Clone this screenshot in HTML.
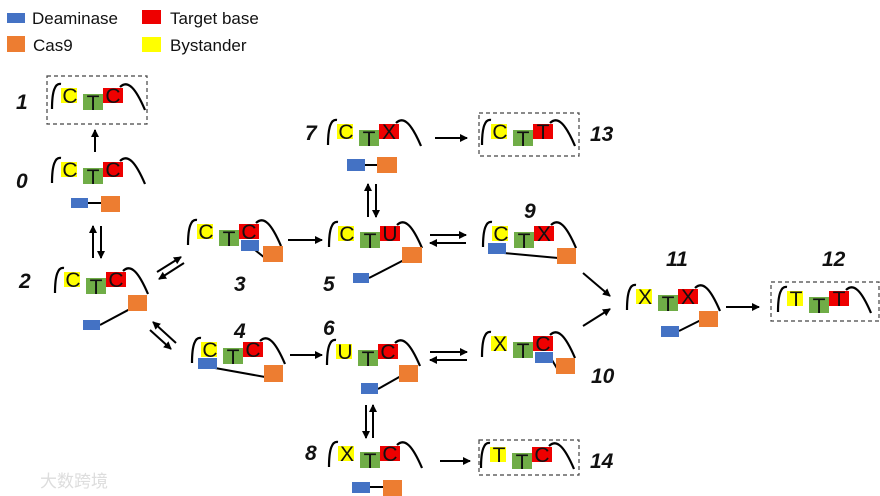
<!DOCTYPE html>
<html><head><meta charset="utf-8"><style>
html,body{margin:0;padding:0;background:#fff}
svg{display:block}
.y{fill:#FFFF00}.g{fill:#70AD47}.r{fill:#EE0000}.b{fill:#4472C4}.o{fill:#ED7D31}
.m text{font-family:"Liberation Sans",sans-serif;font-size:21px;fill:#111;text-anchor:middle}
.lab{font-family:"Liberation Sans",sans-serif;font-size:21px;font-weight:bold;font-style:italic;fill:#111}
.leg{font-family:"Liberation Sans",sans-serif;font-size:17px;fill:#111}
.ln{stroke:#000;stroke-width:2;fill:none}
.dash{fill:none;stroke:#444;stroke-width:1.2;stroke-dasharray:4,3}
</style></head><body>
<svg width="880" height="496" viewBox="0 0 880 496" xmlns="http://www.w3.org/2000/svg">
<defs>
<path id="arc" d="M0,0 C0,-18 3,-26 9,-25 M68,-22 C76,-30 84,-20 93,1" fill="none" stroke="#000" stroke-width="2.2"/>
<marker id="ah" markerWidth="8" markerHeight="8" refX="7" refY="4" orient="auto" markerUnits="userSpaceOnUse"><path d="M0,0 L8,4 L0,8 z" fill="#000"/></marker>
</defs>
<rect class="b" x="7" y="13" width="18" height="10"/><text class="leg" x="32" y="24">Deaminase</text>
<rect class="r" x="142" y="10" width="19" height="14"/><text class="leg" x="170" y="24">Target base</text>
<rect class="o" x="7" y="36" width="18" height="16"/><text class="leg" x="33" y="51">Cas9</text>
<rect class="y" x="142" y="37" width="19" height="15"/><text class="leg" x="170" y="51">Bystander</text>

<rect class="dash" x="47" y="76" width="100" height="48"/>
<rect class="dash" x="479" y="113" width="100" height="43"/>
<rect class="dash" x="771" y="282" width="108" height="39"/>
<rect class="dash" x="479" y="440" width="100" height="35"/>

<g class="m" transform="translate(52,183)"><use href="#arc"/><rect class="y" x="9" y="-21" width="16" height="15"/><rect class="g" x="31" y="-15" width="20" height="16"/><rect class="r" x="51" y="-21" width="20" height="15"/><text x="18" y="-6">C</text><text x="41" y="1">T</text><text x="61" y="-6">C</text></g>
<g class="m" transform="translate(52,109)"><use href="#arc"/><rect class="y" x="9" y="-21" width="16" height="15"/><rect class="g" x="31" y="-15" width="20" height="16"/><rect class="r" x="51" y="-21" width="20" height="15"/><text x="18" y="-6">C</text><text x="41" y="1">T</text><text x="61" y="-6">C</text></g>
<g class="m" transform="translate(55,293)"><use href="#arc"/><rect class="y" x="9" y="-21" width="16" height="15"/><rect class="g" x="31" y="-15" width="20" height="16"/><rect class="r" x="51" y="-21" width="20" height="15"/><text x="18" y="-6">C</text><text x="41" y="1">T</text><text x="61" y="-6">C</text></g>
<g class="m" transform="translate(188,245)"><use href="#arc"/><rect class="y" x="9" y="-21" width="16" height="15"/><rect class="g" x="31" y="-15" width="20" height="16"/><rect class="r" x="51" y="-21" width="20" height="15"/><text x="18" y="-6">C</text><text x="41" y="1">T</text><text x="61" y="-6">C</text></g>
<g class="m" transform="translate(192,363)"><use href="#arc"/><rect class="y" x="9" y="-21" width="16" height="15"/><rect class="g" x="31" y="-15" width="20" height="16"/><rect class="r" x="51" y="-21" width="20" height="15"/><text x="18" y="-6">C</text><text x="41" y="1">T</text><text x="61" y="-6">C</text></g>
<g class="m" transform="translate(329,247)"><use href="#arc"/><rect class="y" x="9" y="-21" width="16" height="15"/><rect class="g" x="31" y="-15" width="20" height="16"/><rect class="r" x="51" y="-21" width="20" height="15"/><text x="18" y="-6">C</text><text x="41" y="1">T</text><text x="61" y="-6">U</text></g>
<g class="m" transform="translate(327,365)"><use href="#arc"/><rect class="y" x="9" y="-21" width="16" height="15"/><rect class="g" x="31" y="-15" width="20" height="16"/><rect class="r" x="51" y="-21" width="20" height="15"/><text x="18" y="-6">U</text><text x="41" y="1">T</text><text x="61" y="-6">C</text></g>
<g class="m" transform="translate(328,145)"><use href="#arc"/><rect class="y" x="9" y="-21" width="16" height="15"/><rect class="g" x="31" y="-15" width="20" height="16"/><rect class="r" x="51" y="-21" width="20" height="15"/><text x="18" y="-6">C</text><text x="41" y="1">T</text><text x="61" y="-6">X</text></g>
<g class="m" transform="translate(329,467)"><use href="#arc"/><rect class="y" x="9" y="-21" width="16" height="15"/><rect class="g" x="31" y="-15" width="20" height="16"/><rect class="r" x="51" y="-21" width="20" height="15"/><text x="18" y="-6">X</text><text x="41" y="1">T</text><text x="61" y="-6">C</text></g>
<g class="m" transform="translate(483,247)"><use href="#arc"/><rect class="y" x="9" y="-21" width="16" height="15"/><rect class="g" x="31" y="-15" width="20" height="16"/><rect class="r" x="51" y="-21" width="20" height="15"/><text x="18" y="-6">C</text><text x="41" y="1">T</text><text x="61" y="-6">X</text></g>
<g class="m" transform="translate(482,357)"><use href="#arc"/><rect class="y" x="9" y="-21" width="16" height="15"/><rect class="g" x="31" y="-15" width="20" height="16"/><rect class="r" x="51" y="-21" width="20" height="15"/><text x="18" y="-6">X</text><text x="41" y="1">T</text><text x="61" y="-6">C</text></g>
<g class="m" transform="translate(627,310)"><use href="#arc"/><rect class="y" x="9" y="-21" width="16" height="15"/><rect class="g" x="31" y="-15" width="20" height="16"/><rect class="r" x="51" y="-21" width="20" height="15"/><text x="18" y="-6">X</text><text x="41" y="1">T</text><text x="61" y="-6">X</text></g>
<g class="m" transform="translate(778,312)"><use href="#arc"/><rect class="y" x="9" y="-21" width="16" height="15"/><rect class="g" x="31" y="-15" width="20" height="16"/><rect class="r" x="51" y="-21" width="20" height="15"/><text x="18" y="-6">T</text><text x="41" y="1">T</text><text x="61" y="-6">T</text></g>
<g class="m" transform="translate(482,145)"><use href="#arc"/><rect class="y" x="9" y="-21" width="16" height="15"/><rect class="g" x="31" y="-15" width="20" height="16"/><rect class="r" x="51" y="-21" width="20" height="15"/><text x="18" y="-6">C</text><text x="41" y="1">T</text><text x="61" y="-6">T</text></g>
<g class="m" transform="translate(481,468)"><use href="#arc"/><rect class="y" x="9" y="-21" width="16" height="15"/><rect class="g" x="31" y="-15" width="20" height="16"/><rect class="r" x="51" y="-21" width="20" height="15"/><text x="18" y="-6">T</text><text x="41" y="1">T</text><text x="61" y="-6">C</text></g>

<line class="ln" x1="88" y1="203" x2="101" y2="203"/><rect class="b" x="71" y="198" width="17" height="10"/><rect class="o" x="101" y="196" width="19" height="16"/>
<line class="ln" x1="100" y1="325" x2="130" y2="309"/><rect class="b" x="83" y="320" width="17" height="10"/><rect class="o" x="128" y="295" width="19" height="16"/>
<line class="ln" x1="255" y1="250" x2="265" y2="258"/><rect class="b" x="241" y="240" width="18" height="11"/><rect class="o" x="263" y="246" width="20" height="16"/>
<line class="ln" x1="365" y1="165" x2="377" y2="165"/><rect class="b" x="347" y="159" width="18" height="12"/><rect class="o" x="377" y="157" width="20" height="16"/>
<line class="ln" x1="369" y1="278" x2="404" y2="260"/><rect class="b" x="353" y="273" width="16" height="10"/><rect class="o" x="402" y="247" width="20" height="16"/>
<line class="ln" x1="504" y1="253" x2="558" y2="258"/><rect class="b" x="488" y="243" width="18" height="11"/><rect class="o" x="557" y="248" width="19" height="16"/>
<line class="ln" x1="215" y1="368" x2="265" y2="377"/><rect class="b" x="198" y="358" width="19" height="11"/><rect class="o" x="264" y="365" width="19" height="17"/>
<line class="ln" x1="378" y1="389" x2="401" y2="376"/><rect class="b" x="361" y="383" width="17" height="11"/><rect class="o" x="399" y="365" width="19" height="17"/>
<line class="ln" x1="370" y1="487" x2="383" y2="487"/><rect class="b" x="352" y="482" width="18" height="11"/><rect class="o" x="383" y="480" width="19" height="16"/>
<line class="ln" x1="552" y1="360" x2="558" y2="370"/><rect class="b" x="535" y="352" width="18" height="11"/><rect class="o" x="556" y="358" width="19" height="16"/>
<line class="ln" x1="679" y1="331" x2="701" y2="320"/><rect class="b" x="661" y="326" width="18" height="11"/><rect class="o" x="699" y="311" width="19" height="16"/>

<g stroke="#000" stroke-width="2" fill="none">
<line x1="95" y1="152" x2="95" y2="130" marker-end="url(#ah)"/>
<line x1="93" y1="258" x2="93" y2="226" marker-end="url(#ah)"/>
<line x1="101" y1="226" x2="101" y2="258" marker-end="url(#ah)"/>
<line x1="157" y1="272" x2="181" y2="257" marker-end="url(#ah)"/>
<line x1="184" y1="263" x2="159" y2="279" marker-end="url(#ah)"/>
<line x1="150" y1="330" x2="171" y2="349" marker-end="url(#ah)"/>
<line x1="176" y1="343" x2="153" y2="322" marker-end="url(#ah)"/>
<line x1="288" y1="240" x2="322" y2="240" marker-end="url(#ah)"/>
<line x1="290" y1="355" x2="322" y2="355" marker-end="url(#ah)"/>
<line x1="368" y1="217" x2="368" y2="184" marker-end="url(#ah)"/>
<line x1="376" y1="184" x2="376" y2="217" marker-end="url(#ah)"/>
<line x1="430" y1="235" x2="466" y2="235" marker-end="url(#ah)"/>
<line x1="466" y1="243" x2="430" y2="243" marker-end="url(#ah)"/>
<line x1="430" y1="352" x2="467" y2="352" marker-end="url(#ah)"/>
<line x1="467" y1="360" x2="430" y2="360" marker-end="url(#ah)"/>
<line x1="366" y1="405" x2="366" y2="438" marker-end="url(#ah)"/>
<line x1="373" y1="438" x2="373" y2="405" marker-end="url(#ah)"/>
<line x1="435" y1="138" x2="467" y2="138" marker-end="url(#ah)"/>
<line x1="440" y1="461" x2="470" y2="461" marker-end="url(#ah)"/>
<line x1="583" y1="273" x2="610" y2="296" marker-end="url(#ah)"/>
<line x1="583" y1="326" x2="610" y2="309" marker-end="url(#ah)"/>
<line x1="726" y1="307" x2="759" y2="307" marker-end="url(#ah)"/>
</g>

<text class="lab" x="16" y="109">1</text>
<text class="lab" x="16" y="188">0</text>
<text class="lab" x="19" y="288">2</text>
<text class="lab" x="234" y="291">3</text>
<text class="lab" x="234" y="338">4</text>
<text class="lab" x="323" y="291">5</text>
<text class="lab" x="323" y="335">6</text>
<text class="lab" x="305" y="140">7</text>
<text class="lab" x="305" y="460">8</text>
<text class="lab" x="524" y="218">9</text>
<text class="lab" x="591" y="383">10</text>
<text class="lab" x="666" y="266">11</text>
<text class="lab" x="822" y="266">12</text>
<text class="lab" x="590" y="141">13</text>
<text class="lab" x="590" y="468">14</text>

<text x="40" y="487" font-family="'Liberation Sans','Noto Sans CJK SC',sans-serif" font-size="17" fill="#ddd">大数跨境</text>
</svg>
</body></html>
